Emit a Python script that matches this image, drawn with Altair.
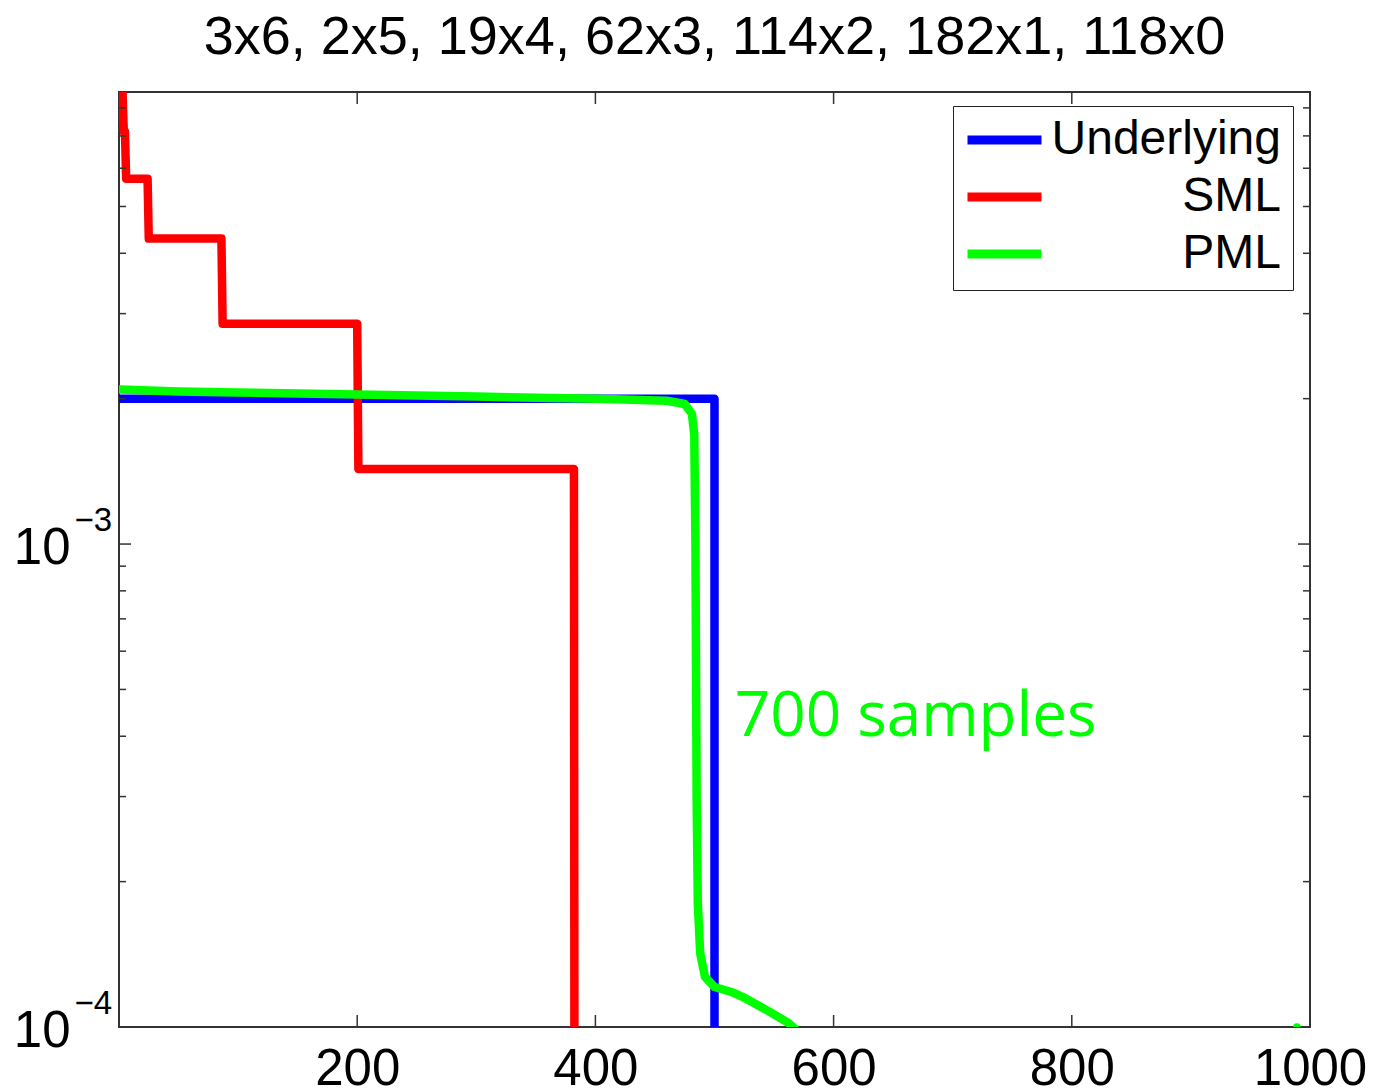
import altair as alt
import pandas as pd

title_text = "3x6, 2x5, 19x4, 62x3, 114x2, 182x1, 118x0"
series_names = ["Underlying", "SML", "PML"]
series_colors = ["#0000ff", "#ff0000", "#00ff00"]

underlying_x = [1, 500, 500]
underlying_y = [0.002, 0.002, 0.000001]

sml_x = [1, 3, 4, 5, 6, 24, 25, 86, 87, 200, 201, 382, 383]
sml_y = [0.00857, 0.00857, 0.00714, 0.00714, 0.00571, 0.00571, 0.00429,
         0.00429, 0.00286, 0.00286, 0.00143, 0.00143, 0.000001]

pml_x = [1, 50, 100, 200, 300, 400, 460, 475, 481, 483, 484, 485, 486,
         488, 492, 500, 515, 525, 545, 562, 580]
pml_y = [0.00209, 0.00207, 0.00206, 0.00204, 0.00202, 0.00200, 0.00198,
         0.00195, 0.00186, 0.00169, 0.00100, 0.00030, 0.00018, 0.000142,
         0.000127, 0.000121, 0.000118, 0.000115, 0.000108, 0.000102, 0.000093]

pml_dot_x = [989]
pml_dot_y = [0.0001]

x_major_ticks = [200, 400, 600, 800]
x_labels = [200, 400, 600, 800, 1000]
y_major_ticks = [0.001]
y_minor_ticks = [0.0002, 0.0003, 0.0004, 0.0005, 0.0006, 0.0007, 0.0008, 0.0009,
                 0.002, 0.003, 0.004, 0.005, 0.006, 0.007, 0.008]
y_label_values = [0.0001, 0.001]
y_exponents = ["\u22124", "\u22123"]

annotation_x = [517]
annotation_y = [0.0004]
annotation_text = ["700 samples"]

W, H = 1191, 935
FONT = "Liberation Sans"

xscale = alt.Scale(domain=[0, 1000], nice=False, zero=False)
yscale = alt.Scale(type="log", domain=[0.0001, 0.00863], nice=False)

series_data = {
    "Underlying": (underlying_x, underlying_y),
    "SML": (sml_x, sml_y),
    "PML": (pml_x, pml_y),
}

legend = alt.Legend(
    title=None, orient="none", legendX=834, legendY=14, direction="vertical",
    symbolType="stroke", symbolSize=5476, symbolStrokeWidth=9, symbolOffset=-2,
    labelFontSize=48, labelFont=FONT, labelColor="black", labelAlign="right",
    labelBaseline="middle", labelOffset=235, labelLimit=600, padding=12,
    rowPadding=9, clipHeight=44, strokeColor="#222", fillColor="white",
)

x_axis = alt.Axis(orient="bottom", values=x_labels, format="d", ticks=False, domain=False,
                  grid=False, labelFontSize=51, labelFont=FONT, labelColor="black",
                  labelPadding=17, labelFlush=False, labelOverlap=False, title=None)
y_axis = alt.Axis(orient="left", values=y_label_values, labelExpr="'10'", ticks=False,
                  domain=False, grid=False, labelFontSize=51, labelFont=FONT,
                  labelColor="black", labelPadding=49, labelOffset=4, labelFlush=False,
                  labelOverlap=False, title=None)

color_enc = alt.Color("series:N",
                      scale=alt.Scale(domain=series_names, range=series_colors),
                      legend=legend)

layers = []
for i, name in enumerate(series_names):
    xs, ys = series_data[name]
    df = pd.DataFrame({"x": xs, "y": ys, "series": name, "idx": list(range(len(xs)))})
    layers.append(
        alt.Chart(df).mark_line(strokeWidth=8.5, clip=True, strokeCap="round",
                                strokeJoin="round").encode(
            x=alt.X("x:Q", scale=xscale, axis=x_axis if i == 0 else None),
            y=alt.Y("y:Q", scale=yscale, axis=y_axis if i == 0 else None),
            color=color_enc,
            order=alt.Order("idx:Q"),
        )
    )

dot = alt.Chart(pd.DataFrame({"x": pml_dot_x, "y": pml_dot_y})).mark_point(
    filled=True, size=60, color="#00ff00", opacity=1, clip=True
).encode(
    x=alt.X("x:Q", scale=xscale, axis=None),
    y=alt.Y("y:Q", scale=yscale, axis=None),
)

tick_color = "#333333"


def y_ticks(vals, x0, x1):
    return alt.Chart(pd.DataFrame({"v": vals})).mark_rule(
        color=tick_color, strokeWidth=1.5
    ).encode(
        y=alt.Y("v:Q", scale=yscale, axis=None),
        x=alt.value(x0), x2=alt.value(x1),
    )


def x_ticks(vals, y0, y1):
    return alt.Chart(pd.DataFrame({"v": vals})).mark_rule(
        color=tick_color, strokeWidth=1.5
    ).encode(
        x=alt.X("v:Q", scale=xscale, axis=None),
        y=alt.value(y0), y2=alt.value(y1),
    )


tick_layers = [
    y_ticks(y_major_ticks, 0, 12), y_ticks(y_major_ticks, W - 12, W),
    y_ticks(y_minor_ticks, 0, 7), y_ticks(y_minor_ticks, W - 7, W),
    x_ticks(x_major_ticks, H - 12, H), x_ticks(x_major_ticks, 0, 12),
]

exponents = alt.Chart(pd.DataFrame({"v": y_label_values, "t": y_exponents})).mark_text(
    align="right", baseline="middle", dy=-23, fontSize=33, font=FONT, color="black"
).encode(
    y=alt.Y("v:Q", scale=yscale, axis=None),
    x=alt.value(-7),
    text="t:N",
)

annotation = alt.Chart(pd.DataFrame({"x": annotation_x, "y": annotation_y,
                                     "t": annotation_text})).mark_text(
    align="left", baseline="alphabetic", fontSize=62, font="Open Sans", color="#00ff00"
).encode(
    x=alt.X("x:Q", scale=xscale, axis=None),
    y=alt.Y("y:Q", scale=yscale, axis=None),
    text="t:N",
)

chart = alt.layer(*layers, *tick_layers, dot, exponents, annotation).resolve_axis(
    x="independent", y="independent"
).properties(
    width=W, height=H,
    title=alt.Title(title_text, fontSize=54, font=FONT, color="black",
                    fontWeight="normal", anchor="middle", offset=26),
    autosize=alt.AutoSizeParams(type="none"),
    padding={"left": 111, "top": 84, "right": 62, "bottom": 72},
).configure_view(stroke="#333333", strokeWidth=2)

chart.save("out.html", embed_options={"renderer": "svg", "actions": False})
